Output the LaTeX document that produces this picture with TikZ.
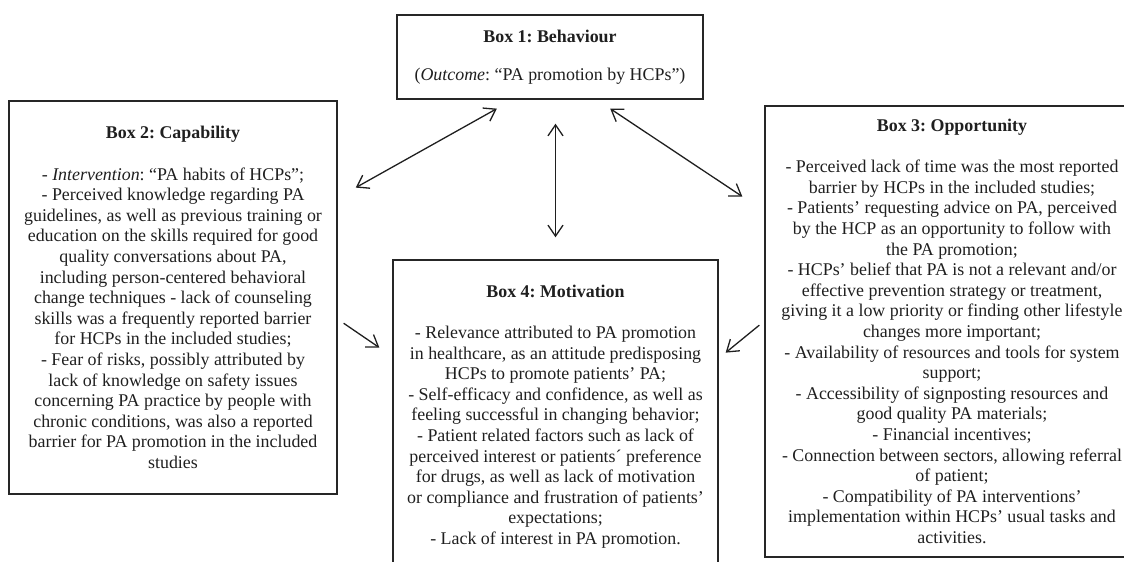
\documentclass[tikz,border=0pt]{standalone}
\usepackage{fontspec}
\setmainfont{Liberation Serif}
\usetikzlibrary{arrows.meta,calc}
\frenchspacing

\tikzset{
	box/.style = {draw = black!85, line width = 1.4pt, inner sep = 0pt, align = center, text = black!88, font = \fontsize{17.9}{20.6}\selectfont},
	link/.style = {line width = 1.3pt, black!88, arrows = {Straight Barb[length = 11pt, width = 15pt]-Straight Barb[length = 11pt, width = 15pt]}},
	push/.style = {line width = 1.3pt, black!88, arrows = {-Straight Barb[length = 11pt, width = 15pt]}}
}

\begin{document}
\begin{tikzpicture}[x = 1pt, y = -1pt]
	 \useasboundingbox (0, 0) rectangle (1124, 562);

	 \node[box, minimum width = 306pt, minimum height = 84pt] (box1) at (550, 57) {\textbf{Box 1: Behaviour}\\[17pt](\textit{Outcome}: “PA promotion by HCPs”)};

	 \node[box, minimum width = 328pt, minimum height = 393pt] (box2) at (173, 297.5) {\textbf{Box 2: Capability}\\[20.6pt]- \textit{Intervention}: “PA habits of HCPs”;\\- Perceived knowledge regarding PA\\guidelines, as well as previous training or\\education on the skills required for good\\quality conversations about PA,\\including person-centered behavioral\\change techniques - lack of counseling\\skills was a frequently reported barrier\\for HCPs in the included studies;\\- Fear of risks, possibly attributed by\\lack of knowledge on safety issues\\concerning PA practice by people with\\chronic conditions, was also a reported\\barrier for PA promotion in the included\\studies};

	 \node[box, minimum width = 374pt, minimum height = 451pt] (box3) at (952, 331.5) {\textbf{Box 3: Opportunity}\\[20.6pt]- Perceived lack of time was the most reported\\barrier by HCPs in the included studies;\\- Patients’ requesting advice on PA, perceived\\by the HCP as an opportunity to follow with\\the PA promotion;\\- HCPs’ belief that PA is not a relevant and/or\\effective prevention strategy or treatment,\\giving it a low priority or finding other lifestyle\\changes more important;\\- Availability of resources and tools for system\\support;\\- Accessibility of signposting resources and\\good quality PA materials;\\- Financial incentives;\\- Connection between sectors, allowing referral\\of patient;\\- Compatibility of PA interventions’\\implementation within HCPs’ usual tasks and\\activities.};

	 \node[box, minimum width = 325pt, minimum height = 313pt] (box4) at (555.5, 416.5) {\textbf{Box 4: Motivation}\\[20.6pt]- Relevance attributed to PA promotion\\in healthcare, as an attitude predisposing\\HCPs to promote patients’ PA;\\- Self-efficacy and confidence, as well as\\feeling successful in changing behavior;\\- Patient related factors such as lack of\\perceived interest or patients´ preference\\for drugs, as well as lack of motivation\\or compliance and frustration of patients’\\expectations;\\- Lack of interest in PA promotion.};

	 \draw[link, shorten <= 20.7pt, shorten >= 18.3pt] ($(box2.north east)!.247!(box2.south east)$) -- ($(box1.south west)!.379!(box1.south east)$);
	 \draw[link, shorten <= 24pt, shorten >= 22pt] (box4.north |- box1.south) -- (box4.north);
	 \draw[link, shorten <= 16.2pt, shorten >= 26.4pt] ($(box1.south west)!.652!(box1.south east)$) -- ($(box3.north west)!.234!(box3.south west)$);
	 \draw[push, shorten <= 7.2pt, shorten >= 15.7pt] ($(box2.north east)!.555!(box2.south east)$) -- ($(box4.north west)!.309!(box4.south west)$);
	 \draw[push, shorten <= 6.4pt, shorten >= 9pt] ($(box3.north west)!.477!(box3.south west)$) -- ($(box4.north east)!.315!(box4.south east)$);
\end{tikzpicture}
\end{document}
